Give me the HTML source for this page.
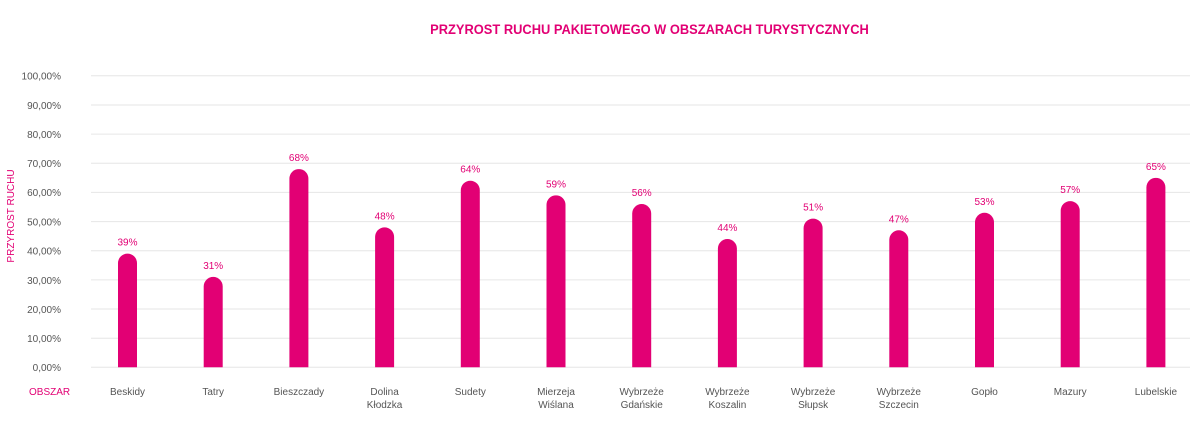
<!DOCTYPE html>
<html><head><meta charset="utf-8"><style>
html,body{margin:0;padding:0;background:#fff;}
svg{display:block;font-family:"Liberation Sans",sans-serif;}
</style></head><body>
<svg width="1200" height="435" viewBox="0 0 1200 435" xmlns="http://www.w3.org/2000/svg">
<text x="650" y="34" text-anchor="middle" font-size="14" fill="#e20074" font-weight="bold" transform="scale(0.92,1) translate(56,0)">PRZYROST RUCHU PAKIETOWEGO W OBSZARACH TURYSTYCZNYCH</text>
<g stroke="#e6e6e6" stroke-width="1">
<line x1="91" x2="1190" y1="367.3" y2="367.3"/>
<line x1="91" x2="1190" y1="338.2" y2="338.2"/>
<line x1="91" x2="1190" y1="309.0" y2="309.0"/>
<line x1="91" x2="1190" y1="279.9" y2="279.9"/>
<line x1="91" x2="1190" y1="250.7" y2="250.7"/>
<line x1="91" x2="1190" y1="221.6" y2="221.6"/>
<line x1="91" x2="1190" y1="192.4" y2="192.4"/>
<line x1="91" x2="1190" y1="163.3" y2="163.3"/>
<line x1="91" x2="1190" y1="134.1" y2="134.1"/>
<line x1="91" x2="1190" y1="105.0" y2="105.0"/>
<line x1="91" x2="1190" y1="75.8" y2="75.8"/>
</g>
<g font-size="10" fill="#555" text-anchor="end">
<text x="61" y="371">0,00%</text>
<text x="61" y="342">10,00%</text>
<text x="61" y="313">20,00%</text>
<text x="61" y="284">30,00%</text>
<text x="61" y="254.5">40,00%</text>
<text x="61" y="225.5">50,00%</text>
<text x="61" y="196">60,00%</text>
<text x="61" y="167">70,00%</text>
<text x="61" y="138">80,00%</text>
<text x="61" y="109">90,00%</text>
<text x="61" y="79.5">100,00%</text>
</g>
<text transform="translate(14,216) rotate(-90)" text-anchor="middle" font-size="10" fill="#e20074">PRZYROST RUCHU</text>
<text x="29" y="395" font-size="10" fill="#e20074">OBSZAR</text>
<g fill="#e20074" id="bars"></g>
<g id="vals" font-size="10" fill="#e20074" text-anchor="middle"></g>
<g id="cats" font-size="10" fill="#555" text-anchor="middle"></g>
<script>
var d=[["Beskidy",39],["Tatry",31],["Bieszczady",68],["Dolina|Kłodzka",48],["Sudety",64],["Mierzeja|Wiślana",59],["Wybrzeże|Gdańskie",56],["Wybrzeże|Koszalin",44],["Wybrzeże|Słupsk",51],["Wybrzeże|Szczecin",47],["Gopło",53],["Mazury",57],["Lubelskie",65]];
var ns="http://www.w3.org/2000/svg",b=document.getElementById("bars"),v=document.getElementById("vals"),c=document.getElementById("cats");
d.forEach(function(e,i){var cx=127.5+i*85.7,top=367.3-e[1]*2.915;
var p=document.createElementNS(ns,"path");var w=9.5;
p.setAttribute("d","M"+(cx-w)+",367.3 L"+(cx-w)+","+(top+w)+" A"+w+","+w+" 0 0 1 "+(cx+w)+","+(top+w)+" L"+(cx+w)+",367.3 Z");b.appendChild(p);
var t=document.createElementNS(ns,"text");t.setAttribute("x",cx);t.setAttribute("y",top-8);t.textContent=e[1]+"%";v.appendChild(t);
e[0].split("|").forEach(function(s,j){var t2=document.createElementNS(ns,"text");t2.setAttribute("x",cx);t2.setAttribute("y",395+j*13);t2.textContent=s;c.appendChild(t2);});
});
</script>
</svg>
</body></html>
